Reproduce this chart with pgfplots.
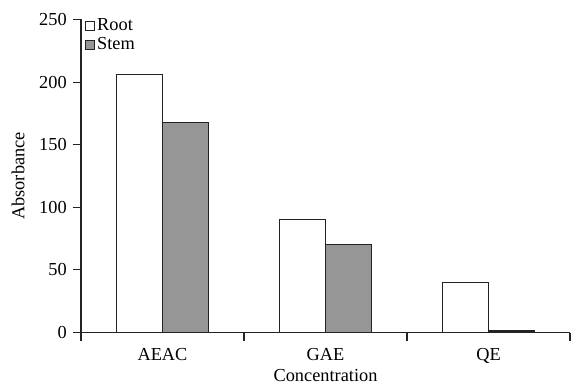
\documentclass[border=0pt]{standalone}
\usepackage{fontspec}
\setmainfont{Liberation Serif}
\usepackage{pgfplots}
\pgfplotsset{compat=1.18}
\definecolor{stemgray}{RGB}{150,150,150}
\definecolor{edge}{RGB}{35,35,35}
\begin{document}
\fontsize{18.4}{22}\selectfont
\begin{tikzpicture}
\begin{axis}[
 at={(0,0)}, anchor=south west,
 scale only axis, width=489bp, height=313bp,
 xmin=-0.5, xmax=2.5, ymin=0, ymax=250,
 ybar=0pt, bar width=45.7bp,
 axis x line*=bottom, axis y line*=left,
 axis line style={edge, line width=1.1pt, -},
 xtick={-0.5,0.5,1.5,2.5}, xticklabels={,,,},
 extra x ticks={0,1,2}, extra x tick labels={AEAC,GAE,QE},
 extra x tick style={tick style={draw=none}, xticklabel style={anchor=base, yshift=-20bp}},
 ytick={0,50,...,250},
 tick align=outside,
 major tick length=8bp,
 tick style={edge, line width=1.1pt},
 /pgf/number format/assume math mode=true,
 ticklabel style={font=\fontsize{18.4}{22}\selectfont},
 label style={font=\fontsize{18.4}{22}\selectfont},
 ylabel={Absorbance}, xlabel={Concentration},
 ylabel style={at={(axis description cs:-0.1288,0.5)}, anchor=center},
 xlabel style={at={(axis description cs:0.5,0)}, yshift=-49bp, anchor=base, inner sep=0pt},
 legend style={at={(0.008,1.01)}, anchor=north west, draw=none, fill=none,
   font=\fontsize{18.4}{22}\selectfont, inner sep=0pt, row sep=0bp},
 legend cell align=left,
 legend image code/.code={\draw[#1, line width=1.1pt] (0bp,-4.5bp) rectangle (9bp,4.5bp);},
]
\addplot[fill=white, draw=edge, line width=1.1pt] coordinates {(0,206) (1,90.5) (2,39.7)};
\addplot[fill=stemgray, draw=edge, line width=1.1pt] coordinates {(0,168) (1,70.6) (2,1.2)};
\legend{Root, Stem}
\end{axis}
\pgfresetboundingbox
\path (-81bp,-50.5bp) rectangle (491bp,332.5bp);
\end{tikzpicture}
\end{document}
